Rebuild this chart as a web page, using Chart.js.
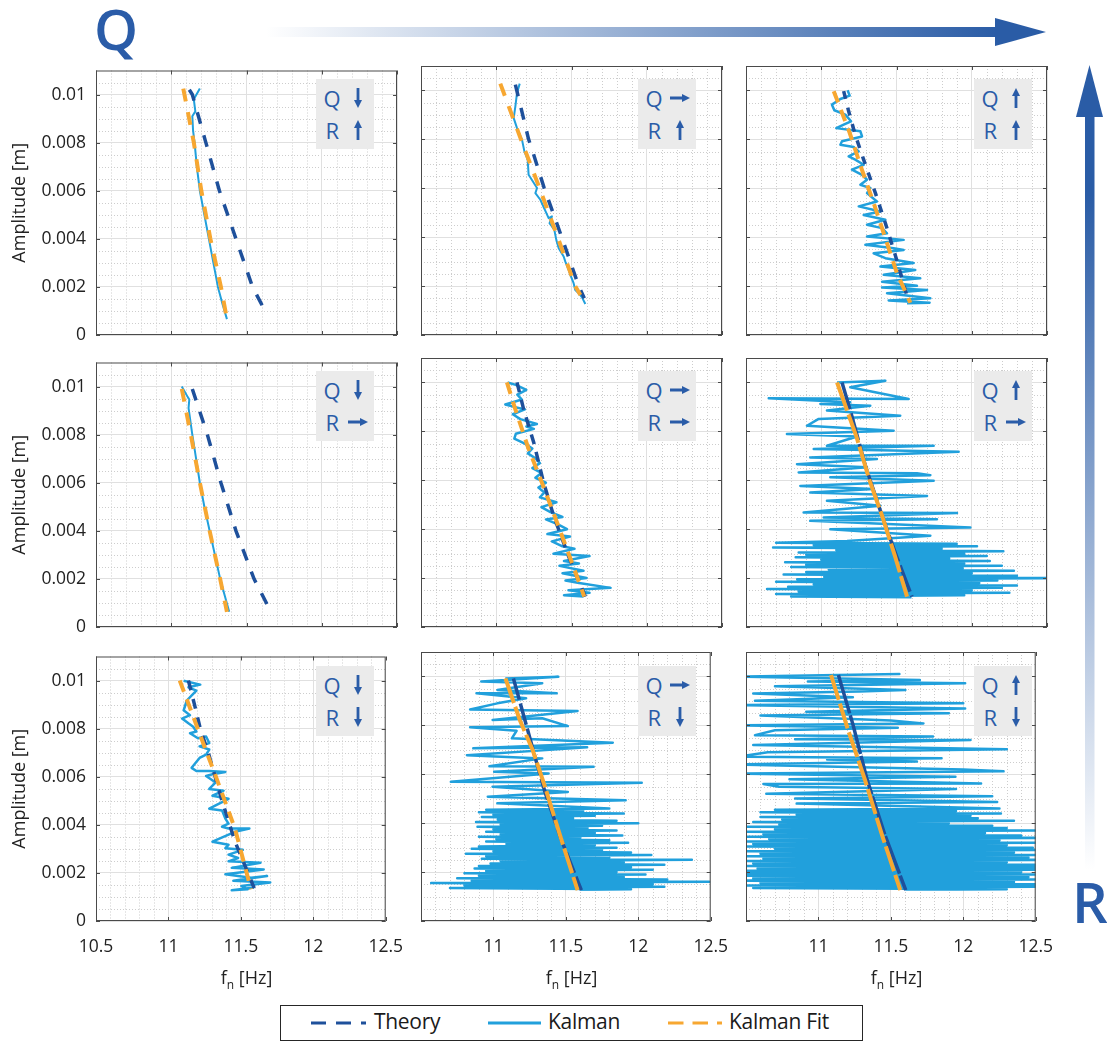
<!DOCTYPE html>
<html>
<head>
<meta charset="utf-8">
<script src="https://cdn.jsdelivr.net/npm/chart.js@4.4.1/dist/chart.umd.min.js"></script>
<style>
  html, body { margin: 0; padding: 0; background: #fff; }
  body { width: 1107px; height: 1041px; position: relative; overflow: hidden; font-family: 'Open Sans', sans-serif; }
  canvas { position: absolute; }
  .big { position: absolute; font-size: 56px; font-weight: 600; color: #2a5ca8; line-height: 56px; }
  .note { position: absolute; width: 58px; height: 70px; background: #ebebeb; }
  .note span { position: absolute; font-size: 22px; line-height: 22px; color: #2a5ca8; }
  .note svg { position: absolute; }
  .xlab { position: absolute; width: 200px; text-align: center; font-size: 18px; line-height: 18px; color: #222; }
  .xlab sub { font-size: 12px; vertical-align: -5px; line-height: 0; }
  .leg { position: absolute; font-size: 21px; line-height: 21px; color: #1a1a1a; letter-spacing: -0.3px; white-space: nowrap; }
</style>
</head>
<body>
<svg width="1107" height="1041" style="position:absolute;left:0;top:0">
  <defs>
    <linearGradient id="gq" gradientUnits="userSpaceOnUse" x1="266" y1="0" x2="998" y2="0">
      <stop offset="0" stop-color="#2a5ca6" stop-opacity="0"/>
      <stop offset="1" stop-color="#2a5ca6"/>
    </linearGradient>
    <linearGradient id="gr" gradientUnits="userSpaceOnUse" x1="0" y1="195" x2="0" y2="870">
      <stop offset="0" stop-color="#2a5ca6"/>
      <stop offset="1" stop-color="#2a5ca6" stop-opacity="0"/>
    </linearGradient>
  </defs>
  <rect x="266" y="27" width="732" height="10" fill="url(#gq)"/>
  <polygon points="995,18 1046,32 995,46" fill="#2a5ca6"/>
  <rect x="1085" y="110" width="9.5" height="760" fill="url(#gr)"/>
  <polygon points="1076,117 1089.5,65 1103,117" fill="#2a5ca6"/>
  <line x1="311" y1="1023" x2="366" y2="1023" stroke="#1e509b" stroke-width="3" stroke-dasharray="15 10"/>
  <line x1="488" y1="1023" x2="541" y2="1023" stroke="#21a0dc" stroke-width="3"/>
  <line x1="668" y1="1023" x2="722" y2="1023" stroke="#f7a731" stroke-width="3" stroke-dasharray="15.5 9"/>
</svg>
<div class="big" style="left:94px;top:0px">Q</div>
<div class="big" style="left:1072px;top:873px">R</div>
<div style="position:absolute;left:280px;top:1005px;width:583px;height:36px;border:1px solid #262626;box-sizing:border-box"></div>

<script>
// ticks
const xTicks = [10.5, 11, 11.5, 12, 12.5]
const yTicks = [0, 0.002, 0.004, 0.006, 0.008, 0.01]

// arrows in the little grey boxes (columns = Q, rows = R)
const qLevels = ['down', 'right', 'up']
const rLevels = ['up', 'right', 'down']
const legendLabels = ['Theory', 'Kalman', 'Kalman Fit']

// [frequency Hz, amplitude m]
// row 1 : R high
const theory_qLow_rHigh = [[11.12, 0.0102], [11.14, 0.0100], [11.23, 0.0080], [11.32, 0.0060], [11.43, 0.0040], [11.54, 0.0020], [11.64, 0.0008]]
const fit_qLow_rHigh = [[11.08, 0.01025], [11.15, 0.0080], [11.20, 0.0060], [11.26, 0.0040], [11.33, 0.0020], [11.37, 0.00066]]
const kalman_qLow_rHigh = [[11.19, 0.01025], [11.15, 0.0098], [11.16, 0.0093], [11.14, 0.0091], [11.145, 0.0085], [11.155, 0.0080], [11.17, 0.0070], [11.19, 0.0060], [11.22, 0.0050], [11.25, 0.0040], [11.28, 0.0030], [11.31, 0.0020], [11.34, 0.0013], [11.37, 0.00066]]

const theory_qMid_rHigh = [[11.127, 0.01024], [11.215, 0.0080], [11.249, 0.00737], [11.319, 0.0060], [11.435, 0.0040], [11.548, 0.0020], [11.585, 0.0015]]
const fit_qMid_rHigh = [[11.027, 0.01028], [11.164, 0.0080], [11.288, 0.0060], [11.408, 0.0040], [11.525, 0.0020], [11.559, 0.00164]]
const kalman_qMid_rHigh = [[11.156, 0.01028], [11.138, 0.0099], [11.127, 0.00935], [11.116, 0.00887], [11.138, 0.00846], [11.171, 0.00799], [11.187, 0.00751], [11.209, 0.00717], [11.215, 0.00655], [11.271, 0.00601], [11.26, 0.0058], [11.293, 0.00553], [11.333, 0.00498], [11.348, 0.00478], [11.37, 0.00485], [11.354, 0.00457], [11.386, 0.0043], [11.399, 0.00389], [11.415, 0.00355], [11.448, 0.00321], [11.459, 0.003], [11.481, 0.00266], [11.497, 0.00239], [11.514, 0.00212], [11.525, 0.00184], [11.548, 0.00171], [11.57, 0.00154], [11.592, 0.00127]]

const theory_qHigh_rHigh = [[11.149, 0.00997], [11.18, 0.0092], [11.225, 0.0082], [11.28, 0.0072], [11.36, 0.0058], [11.43, 0.0045], [11.50, 0.0031], [11.58, 0.00137]]
const fit_qHigh_rHigh = [[11.083, 0.00997], [11.187, 0.0083], [11.27, 0.00676], [11.348, 0.0054], [11.426, 0.00396], [11.503, 0.00253], [11.592, 0.00132]]
const kalman_qHigh_rHigh = [[11.175, 0.01001], [11.189, 0.00979], [11.127, 0.00965], [11.071, 0.00942], [11.087, 0.00919], [11.16, 0.00901], [11.198, 0.00874], [11.149, 0.0086], [11.10, 0.00846], [11.26, 0.00833], [11.271, 0.00812], [11.138, 0.00792], [11.127, 0.00778], [11.215, 0.00769], [11.249, 0.00751], [11.182, 0.0073], [11.226, 0.00717], [11.282, 0.00696], [11.204, 0.00676], [11.271, 0.00655], [11.304, 0.00635], [11.26, 0.00614], [11.326, 0.00601], [11.304, 0.0058], [11.37, 0.00546], [11.249, 0.00526], [11.393, 0.00505], [11.282, 0.00491], [11.426, 0.00471], [11.304, 0.00451], [11.404, 0.00437], [11.437, 0.00416], [11.304, 0.00403], [11.548, 0.00389], [11.293, 0.00369], [11.481, 0.00355], [11.548, 0.00348], [11.348, 0.00334], [11.426, 0.00314], [11.614, 0.00294], [11.393, 0.0028], [11.625, 0.00266], [11.415, 0.00246], [11.658, 0.00232], [11.404, 0.00218], [11.636, 0.00201], [11.404, 0.00194], [11.703, 0.00184], [11.437, 0.00171], [11.725, 0.0015], [11.448, 0.00141], [11.72, 0.00132], [11.57, 0.0013]]

// row 2 : R mid
const theory_qLow_rMid = [[11.14, 0.0099], [11.24, 0.0080], [11.33, 0.0060], [11.43, 0.0040], [11.55, 0.0020], [11.665, 0.0006]]
const fit_qLow_rMid = [[11.07, 0.0099], [11.13, 0.0080], [11.19, 0.0060], [11.255, 0.0040], [11.325, 0.0020], [11.37, 0.00063]]
const kalman_qLow_rMid = [[11.07, 0.0100], [11.11, 0.00956], [11.12, 0.00946], [11.115, 0.0091], [11.14, 0.0080], [11.165, 0.0070], [11.19, 0.0060], [11.22, 0.0050], [11.255, 0.0040], [11.29, 0.0030], [11.325, 0.0020], [11.385, 0.00063]]

const theory_qMid_rMid = [[11.138, 0.0100], [11.182, 0.0089], [11.249, 0.00755], [11.315, 0.0059], [11.381, 0.00455], [11.48, 0.0029], [11.592, 0.00124]]
const fit_qMid_rMid = [[11.071, 0.0100], [11.127, 0.0089], [11.215, 0.00728], [11.304, 0.0059], [11.404, 0.00427], [11.503, 0.00263], [11.585, 0.00124]]
const kalman_qMid_rMid = [[11.075, 0.0100], [11.13, 0.0099], [11.20, 0.0097], [11.14, 0.0095], [11.17, 0.0093], [11.06, 0.0091], [11.12, 0.0090], [11.19, 0.0089], [11.11, 0.0087], [11.16, 0.0085], [11.27, 0.0083], [11.20, 0.0082], [11.25, 0.0081], [11.13, 0.0079], [11.12, 0.0077], [11.19, 0.0075], [11.24, 0.0073], [11.21, 0.0071], [11.26, 0.0069], [11.29, 0.0067], [11.24, 0.0065], [11.30, 0.0063], [11.26, 0.0061], [11.33, 0.0059], [11.28, 0.0057], [11.32, 0.0055], [11.29, 0.0053], [11.40, 0.0051], [11.30, 0.0049], [11.36, 0.0047], [11.44, 0.0045], [11.33, 0.0044], [11.41, 0.0042], [11.47, 0.0040], [11.34, 0.0038], [11.49, 0.0037], [11.37, 0.0035], [11.44, 0.0033], [11.52, 0.0032], [11.38, 0.0030], [11.62, 0.0029], [11.45, 0.0027], [11.55, 0.0026], [11.42, 0.0025], [11.58, 0.0023], [11.44, 0.0022], [11.60, 0.0020], [11.46, 0.0019], [11.55, 0.0018], [11.76, 0.0016], [11.48, 0.0015], [11.62, 0.0014], [11.45, 0.0013], [11.58, 0.00125]]

const theory_qHigh_rMid = [[11.138, 0.0100], [11.20, 0.0087], [11.293, 0.0066], [11.404, 0.00455], [11.50, 0.0029], [11.603, 0.00124]]
const fit_qHigh_rMid = [[11.105, 0.0100], [11.233, 0.0078], [11.326, 0.0059], [11.404, 0.00455], [11.49, 0.0029], [11.57, 0.00124]]
const kalman_qHigh_rMid = [[11.105, 0.0100], [11.426, 0.01007], [11.193, 0.0098], [11.581, 0.00932], [10.651, 0.00935], [11.193, 0.00919], [10.994, 0.00912], [11.326, 0.00905], [11.038, 0.00885], [11.525, 0.00864], [10.983, 0.00851], [10.905, 0.00823], [11.481, 0.00803], [10.772, 0.00789], [11.238, 0.00779], [11.038, 0.00741], [11.747, 0.00741], [10.95, 0.00728], [11.913, 0.00717], [10.927, 0.00693], [11.37, 0.00687], [10.839, 0.00666], [11.304, 0.00653], [10.85, 0.00632], [11.636, 0.00629], [11.725, 0.00621], [11.06, 0.00612], [11.747, 0.00598], [10.861, 0.00577], [11.348, 0.00564], [10.927, 0.0055], [11.703, 0.00536], [11.038, 0.00516], [11.393, 0.00496], [10.883, 0.00468], [11.902, 0.00466], [11.016, 0.00448], [11.769, 0.00441], [10.927, 0.00434], [11.991, 0.00407], [11.06, 0.004], [11.725, 0.00373], [11.171, 0.00352], [10.70, 0.00345], [11.90, 0.0034], [10.95, 0.00335], [12.035, 0.0033], [10.68, 0.00325], [11.80, 0.0032], [11.10, 0.00315], [12.21, 0.0031], [10.85, 0.00305], [11.95, 0.003], [10.90, 0.00295], [12.10, 0.0029], [10.83, 0.00285], [11.85, 0.0028], [11.00, 0.00275], [12.12, 0.0027], [10.76, 0.00265], [11.95, 0.0026], [10.90, 0.00255], [12.20, 0.0025], [10.80, 0.00245], [11.94, 0.0024], [11.05, 0.00235], [12.28, 0.0023], [10.90, 0.00225], [12.00, 0.0022], [10.75, 0.00215], [12.30, 0.0021], [11.02, 0.00205], [12.55, 0.002], [10.84, 0.00195], [12.17, 0.0019], [10.70, 0.00185], [12.05, 0.0018], [10.95, 0.00175], [12.30, 0.0017], [10.78, 0.00165], [12.20, 0.0016], [10.64, 0.00155], [12.00, 0.0015], [10.85, 0.00145], [12.25, 0.0014], [10.70, 0.00135], [11.95, 0.0013], [10.80, 0.00125], [11.60, 0.00122]]

// row 3 : R low
const theory_qLow_rLow = [[11.138, 0.0100], [11.18, 0.0090], [11.22, 0.0080], [11.28, 0.0069], [11.37, 0.0050], [11.46, 0.0033], [11.592, 0.00137]]
const fit_qLow_rLow = [[11.078, 0.0100], [11.215, 0.0078], [11.326, 0.00603], [11.459, 0.00385], [11.57, 0.00132]]
const kalman_qLow_rLow = [[11.105, 0.00999], [11.22, 0.00983], [11.138, 0.00972], [11.193, 0.00958], [11.171, 0.00945], [11.127, 0.00917], [11.105, 0.00876], [11.149, 0.00856], [11.094, 0.00842], [11.138, 0.00822], [11.171, 0.00808], [11.193, 0.00788], [11.149, 0.00781], [11.204, 0.0076], [11.26, 0.00767], [11.282, 0.0074], [11.215, 0.00726], [11.282, 0.00713], [11.26, 0.00692], [11.215, 0.00678], [11.16, 0.00637], [11.193, 0.00624], [11.282, 0.00624], [11.393, 0.0062], [11.304, 0.0061], [11.26, 0.00603], [11.326, 0.00576], [11.282, 0.00549], [11.381, 0.00542], [11.304, 0.00521], [11.415, 0.00508], [11.326, 0.00481], [11.282, 0.00467], [11.37, 0.0046], [11.393, 0.00426], [11.415, 0.00405], [11.37, 0.00392], [11.415, 0.00385], [11.559, 0.00385], [11.459, 0.00371], [11.304, 0.0033], [11.415, 0.00317], [11.393, 0.00303], [11.514, 0.00296], [11.415, 0.00276], [11.481, 0.00262], [11.415, 0.00248], [11.636, 0.00242], [11.437, 0.00221], [11.658, 0.00214], [11.393, 0.00194], [11.57, 0.0018], [11.681, 0.00187], [11.448, 0.00167], [11.703, 0.0016], [11.503, 0.00146], [11.548, 0.00132], [11.437, 0.00128], [11.592, 0.00139]]

const theory_qMid_rLow = [[11.138, 0.00992], [11.16, 0.00945], [11.249, 0.00754], [11.293, 0.00658], [11.359, 0.00521], [11.47, 0.0033], [11.607, 0.00126]]
const fit_qMid_rLow = [[11.083, 0.00992], [11.182, 0.00822], [11.271, 0.00699], [11.35, 0.0056], [11.46, 0.0035], [11.581, 0.00126]]
const kalman_qMid_rLow = [[11.082, 0.00992], [11.448, 0.00999], [10.916, 0.00979], [11.337, 0.00972], [11.027, 0.00945], [11.437, 0.00931], [10.883, 0.00931], [11.226, 0.00911], [11.027, 0.0089], [10.839, 0.00865], [11.581, 0.00859], [10.994, 0.00822], [11.337, 0.00829], [11.514, 0.00797], [10.839, 0.00792], [11.16, 0.00778], [11.127, 0.00747], [11.824, 0.00729], [10.861, 0.00706], [11.647, 0.0071], [10.817, 0.00678], [11.337, 0.00665], [10.972, 0.00633], [11.692, 0.00631], [11.005, 0.0061], [11.381, 0.00603], [10.706, 0.00569], [12.024, 0.00565], [10.994, 0.00549], [11.514, 0.00528], [10.961, 0.00508], [11.913, 0.00494], [11.027, 0.00481], [11.80, 0.0046], [10.95, 0.00455], [11.62, 0.0045], [10.90, 0.00445], [11.90, 0.0044], [11.00, 0.00435], [11.70, 0.0043], [10.92, 0.00425], [11.55, 0.0042], [11.03, 0.00415], [11.85, 0.0041], [10.88, 0.00405], [12.00, 0.004], [11.05, 0.00395], [11.75, 0.0039], [10.89, 0.00385], [11.65, 0.0038], [11.00, 0.00375], [11.85, 0.0037], [10.95, 0.00365], [11.70, 0.0036], [11.05, 0.00355], [11.89, 0.0035], [10.90, 0.00345], [11.60, 0.0034], [11.02, 0.00335], [11.80, 0.0033], [10.95, 0.00325], [11.93, 0.0032], [11.09, 0.00315], [11.70, 0.0031], [10.90, 0.00305], [11.85, 0.003], [10.85, 0.00295], [11.75, 0.0029], [11.00, 0.00285], [11.95, 0.0028], [10.81, 0.00275], [12.09, 0.0027], [10.95, 0.00265], [11.80, 0.0026], [10.92, 0.00255], [12.37, 0.0025], [11.05, 0.00245], [11.90, 0.0024], [10.98, 0.00235], [12.18, 0.0023], [10.90, 0.00225], [11.95, 0.0022], [10.87, 0.00215], [12.10, 0.0021], [10.95, 0.00205], [11.85, 0.002], [10.80, 0.00195], [12.05, 0.0019], [10.90, 0.00185], [11.90, 0.0018], [10.75, 0.00175], [12.20, 0.0017], [10.85, 0.00165], [12.49, 0.0016], [10.57, 0.00155], [12.10, 0.0015], [10.80, 0.00145], [12.18, 0.0014], [10.70, 0.00135], [11.95, 0.0013], [11.60, 0.00128]]

const theory_qHigh_rLow = [[11.138, 0.01006], [11.24, 0.0080], [11.337, 0.00576], [11.46, 0.0035], [11.603, 0.00126]]
const fit_qHigh_rLow = [[11.087, 0.01006], [11.20, 0.0079], [11.322, 0.00576], [11.44, 0.0035], [11.565, 0.00126]]
const kalman_qHigh_rLow = [[11.138, 0.01006], [11.559, 0.0101], [10.45, 0.00999], [11.70, 0.00985], [10.927, 0.00979], [12.013, 0.00972], [10.70, 0.0096], [11.60, 0.00945], [11.282, 0.00938], [10.55, 0.0093], [11.238, 0.00915], [10.562, 0.00901], [12.00, 0.0089], [10.45, 0.00883], [12.013, 0.00869], [10.916, 0.00856], [11.90, 0.0085], [10.60, 0.0084], [11.50, 0.0082], [11.725, 0.00808], [10.45, 0.0080], [11.548, 0.0079], [10.70, 0.0078], [10.562, 0.0076], [11.791, 0.00754], [10.839, 0.00743], [12.05, 0.0074], [10.55, 0.0072], [12.301, 0.00702], [10.65, 0.0069], [10.45, 0.00672], [11.85, 0.00666], [11.06, 0.0066], [11.68, 0.00652], [10.45, 0.0064], [12.00, 0.0062], [12.278, 0.00612], [10.45, 0.00603], [11.946, 0.0059], [10.80, 0.0058], [12.123, 0.00562], [10.62, 0.0056], [10.728, 0.00549], [11.95, 0.0054], [10.64, 0.0052], [12.20, 0.0051], [10.839, 0.00501], [12.234, 0.00487], [10.85, 0.0048], [12.25, 0.0046], [10.70, 0.00455], [11.95, 0.0045], [10.60, 0.00445], [12.26, 0.0044], [10.85, 0.00435], [12.05, 0.0043], [10.60, 0.00425], [12.10, 0.0042], [10.75, 0.00415], [12.35, 0.0041], [10.55, 0.00405], [11.90, 0.004], [10.73, 0.00395], [12.20, 0.0039], [10.50, 0.00385], [12.30, 0.0038], [10.70, 0.00375], [12.55, 0.0037], [10.45, 0.00365], [12.15, 0.0036], [10.62, 0.00355], [12.40, 0.0035], [10.50, 0.00345], [12.55, 0.0034], [10.66, 0.00335], [12.25, 0.0033], [10.45, 0.00325], [12.55, 0.0032], [10.55, 0.00315], [12.30, 0.0031], [10.45, 0.00305], [12.48, 0.003], [10.70, 0.00295], [12.55, 0.0029], [10.45, 0.00285], [12.35, 0.0028], [10.60, 0.00275], [12.55, 0.0027], [10.45, 0.00265], [12.45, 0.0026], [10.62, 0.00255], [12.55, 0.0025], [10.45, 0.00245], [12.30, 0.0024], [10.55, 0.00235], [12.55, 0.0023], [10.45, 0.00225], [12.50, 0.0022], [10.58, 0.00215], [12.55, 0.0021], [10.45, 0.00205], [12.40, 0.002], [10.50, 0.00195], [12.55, 0.0019], [10.45, 0.00185], [12.45, 0.0018], [10.55, 0.00175], [12.55, 0.0017], [10.45, 0.00165], [12.35, 0.0016], [10.60, 0.00155], [12.55, 0.0015], [10.45, 0.00145], [12.50, 0.0014], [10.55, 0.00135], [12.30, 0.0013], [11.60, 0.00128]]

const theoryColor = '#1e509b'
const kalmanColor = '#21a0dc'
const fitColor = '#f7a731'

const cellLeft = [96, 421, 746]
const cellTop = [66, 358, 652]
const CW = 301, CH = 269
const PL = 96, PT = 16, PR = 22, PB = 46
const noteLeft = [220, 217, 228]
const noteTop = [13, 13, 14]

const panels = [
  { row: 0, col: 0, kalman: kalman_qLow_rHigh, theory: theory_qLow_rHigh, fit: fit_qLow_rHigh, tDash: [12, 12], fDash: [13, 11], kw: 2 },
  { row: 0, col: 1, kalman: kalman_qMid_rHigh, theory: theory_qMid_rHigh, fit: fit_qMid_rHigh, tDash: [12, 12], fDash: [13, 11], kw: 2 },
  { row: 0, col: 2, kalman: kalman_qHigh_rHigh, theory: theory_qHigh_rHigh, fit: fit_qHigh_rHigh, tDash: [8, 9], fDash: [12, 8], kw: 2.5 },
  { row: 1, col: 0, kalman: kalman_qLow_rMid, theory: theory_qLow_rMid, fit: fit_qLow_rMid, tDash: [12, 12], fDash: [13, 11], kw: 2 },
  { row: 1, col: 1, kalman: kalman_qMid_rMid, theory: theory_qMid_rMid, fit: fit_qMid_rMid, tDash: [10, 8], fDash: [12, 8], kw: 2.5 },
  { row: 1, col: 2, kalman: kalman_qHigh_rMid, theory: theory_qHigh_rMid, fit: fit_qHigh_rMid, tDash: [28, 4], fDash: [30, 4], kw: 2.5 },
  { row: 2, col: 0, kalman: kalman_qLow_rLow, theory: theory_qLow_rLow, fit: fit_qLow_rLow, tDash: [10, 9], fDash: [12, 8], kw: 2.5 },
  { row: 2, col: 1, kalman: kalman_qMid_rLow, theory: theory_qMid_rLow, fit: fit_qMid_rLow, tDash: [22, 4], fDash: [26, 4], kw: 2.5 },
  { row: 2, col: 2, kalman: kalman_qHigh_rLow, theory: theory_qHigh_rLow, fit: fit_qHigh_rLow, tDash: [40, 2], fDash: [26, 4], kw: 2.5 },
]

Chart.defaults.font.family = "'Open Sans', sans-serif"
Chart.defaults.color = '#222'

const toXY = arr => arr.map(([f, a]) => ({ x: f, y: a }))

// dotted minor grid underneath, box + inward ticks on top
const frame = {
  id: 'frame',
  beforeDraw(chart) {
    const { ctx, chartArea: a, scales: { x, y } } = chart
    ctx.save()
    ctx.strokeStyle = '#cdcdcd'
    ctx.lineWidth = 1
    ctx.setLineDash([1, 2])
    ctx.beginPath()
    for (let i = 1; i < 20; i++) {
      if (i % 5 === 0) continue
      const px = Math.round(x.getPixelForValue(10.5 + i * 0.1)) + 0.5
      ctx.moveTo(px, a.top)
      ctx.lineTo(px, a.bottom)
    }
    for (let i = 1; i < 22; i++) {
      if (i % 4 === 0) continue
      const py = Math.round(y.getPixelForValue(i * 0.0005)) + 0.5
      ctx.moveTo(a.left, py)
      ctx.lineTo(a.right, py)
    }
    ctx.stroke()
    ctx.restore()
  },
  afterDraw(chart) {
    const { ctx, chartArea: a, scales: { x, y } } = chart
    ctx.save()
    ctx.strokeStyle = '#4a4a4a'
    ctx.lineWidth = 1
    ctx.beginPath()
    xTicks.forEach(v => {
      const px = Math.round(x.getPixelForValue(v)) + 0.5
      ctx.moveTo(px, a.bottom); ctx.lineTo(px, a.bottom - 4)
      ctx.moveTo(px, a.top); ctx.lineTo(px, a.top + 4)
    })
    yTicks.forEach(v => {
      const py = Math.round(y.getPixelForValue(v)) + 0.5
      ctx.moveTo(a.left, py); ctx.lineTo(a.left + 4, py)
      ctx.moveTo(a.right, py); ctx.lineTo(a.right - 4, py)
    })
    ctx.stroke()
    ctx.strokeRect(a.left + 0.5, a.top + 0.5, a.width - 1, a.height - 1)
    ctx.restore()
  }
}

panels.forEach(p => {
  const cv = document.createElement('canvas')
  cv.width = PL + CW + PR
  cv.height = PT + CH + PB
  cv.style.left = (cellLeft[p.col] - PL) + 'px'
  cv.style.top = (cellTop[p.row] - PT) + 'px'
  document.body.appendChild(cv)

  new Chart(cv, {
    type: 'line',
    data: {
      datasets: [
        { label: legendLabels[2], data: toXY(p.fit), borderColor: fitColor, borderWidth: 4, borderDash: p.fDash, pointRadius: 0, clip: 0 },
        { label: legendLabels[0], data: toXY(p.theory), borderColor: theoryColor, borderWidth: 3.5, borderDash: p.tDash, pointRadius: 0, clip: 0 },
        { label: legendLabels[1], data: toXY(p.kalman), borderColor: kalmanColor, borderWidth: p.kw, borderJoinStyle: 'round', pointRadius: 0, clip: 0 },
      ],
    },
    options: {
      responsive: false,
      animation: false,
      events: [],
      layout: { padding: { left: 0, top: PT, right: PR, bottom: 0 } },
      plugins: { legend: { display: false }, tooltip: { enabled: false } },
      scales: {
        x: {
          type: 'linear',
          position: 'bottom',
          min: 10.5,
          max: 12.5,
          afterBuildTicks: s => { s.ticks = xTicks.map(v => ({ value: v })) },
          afterFit: s => { s.height = PB },
          grid: { color: '#e0e0e0', lineWidth: 1, drawTicks: false },
          border: { display: false },
          ticks: {
            display: p.row === 2,
            autoSkip: false,
            maxRotation: 0,
            padding: 16,
            font: { size: 17.5 },
            callback: v => (p.col > 0 && v === 10.5) ? '' : String(v),
          },
        },
        y: {
          type: 'linear',
          position: 'left',
          min: 0,
          max: 0.011,
          afterBuildTicks: s => { s.ticks = yTicks.map(v => ({ value: v })) },
          afterFit: s => { s.width = PL },
          grid: { color: '#e0e0e0', lineWidth: 1, drawTicks: false },
          border: { display: false },
          ticks: {
            display: p.col === 0,
            padding: 10,
            font: { size: 17.5 },
            callback: v => String(+v.toFixed(4)),
          },
          title: {
            display: p.col === 0,
            text: 'Amplitude [m]',
            font: { size: 18 },
            padding: { top: 9, bottom: 0 },
          },
        },
      },
    },
    plugins: [frame],
  })
})

// Q / R boxes
const arrowPath = {
  down: 'M8.6,0 H11.4 V12 H14 L10,20 L6,12 H8.6 Z',
  up: 'M10,0 L14,8 H11.4 V20 H8.6 V8 H6 Z',
  right: 'M0,8.6 H12 V6 L20,10 L12,14 V11.4 H0 Z',
}
const arrowSvg = (dir, top) =>
  `<svg width="20" height="20" style="left:32px;top:${top}px"><path d="${arrowPath[dir]}" fill="#2a5ca8"/></svg>`

panels.forEach(p => {
  const note = document.createElement('div')
  note.className = 'note'
  note.style.left = (cellLeft[p.col] + noteLeft[p.col]) + 'px'
  note.style.top = (cellTop[p.row] + noteTop[p.row]) + 'px'
  note.innerHTML =
    '<span style="left:7.4px;top:7.9px">Q</span>' + arrowSvg(qLevels[p.col], 9.3) +
    '<span style="left:9.4px;top:39.9px">R</span>' + arrowSvg(rLevels[p.row], 41)
  document.body.appendChild(note)
})

// x-axis titles under the bottom row
cellLeft.forEach(l => {
  const d = document.createElement('div')
  d.className = 'xlab'
  d.style.left = (l + CW / 2 - 100) + 'px'
  d.style.top = '968px'
  d.innerHTML = 'f<sub>n</sub> [Hz]'
  document.body.appendChild(d)
})

// legend labels
const legX = [374, 548, 729]
legendLabels.forEach((t, i) => {
  const s = document.createElement('div')
  s.className = 'leg'
  s.style.left = legX[i] + 'px'
  s.style.top = '1011px'
  s.textContent = t
  document.body.appendChild(s)
})
</script>
</body>
</html>
